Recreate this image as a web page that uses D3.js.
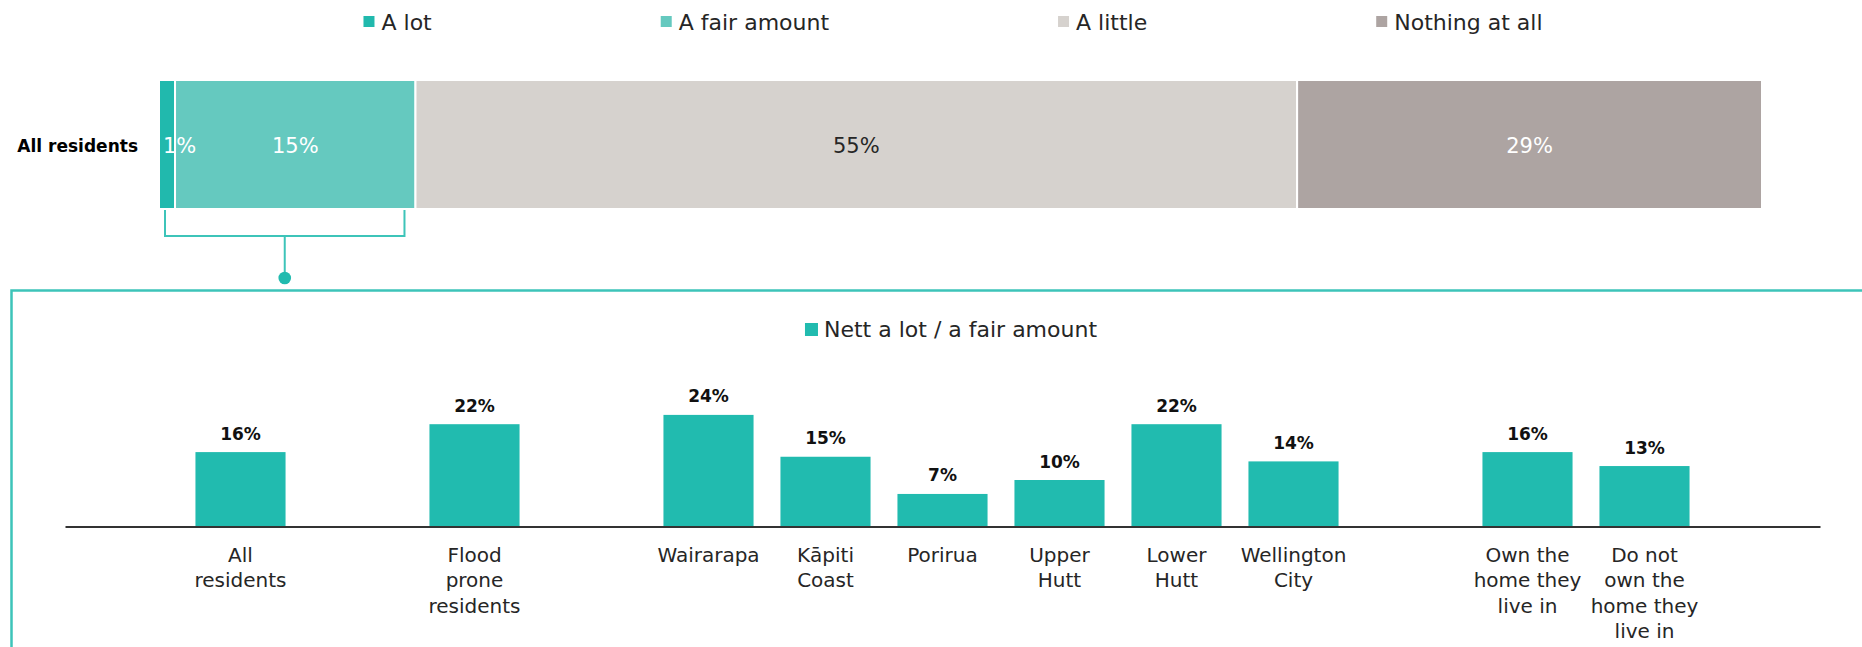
<!DOCTYPE html>
<html>
<head>
<meta charset="utf-8">
<script src="https://cdn.jsdelivr.net/npm/d3@7"></script>
<style>
  html, body { margin: 0; padding: 0; background: #fff; }
  svg { display: block; font-family: "DejaVu Sans", sans-serif; }
</style>
</head>
<body>
<svg id="chart" width="1862" height="647"></svg>
<script>
// ---- Overall awareness (stacked bar) ----
const levels = ["A lot", "A fair amount", "A little", "Nothing at all"];
const allResidentsShares = [1, 15, 55, 29];
const stackRowLabel = "All residents";

// ---- Nett a lot / a fair amount, by subgroup (blank entries are group spacers) ----
const groupLabels = [
  "", "All residents", "", "Flood prone residents", "",
  "Wairarapa", "Kāpiti Coast", "Porirua", "Upper Hutt", "Lower Hutt", "Wellington City", "",
  "Own the home they live in", "Do not own the home they live in", ""
];
const groupLabelLines = [
  [], ["All", "residents"], [], ["Flood", "prone", "residents"], [],
  ["Wairarapa"], ["Kāpiti", "Coast"], ["Porirua"], ["Upper", "Hutt"], ["Lower", "Hutt"], ["Wellington", "City"], [],
  ["Own the", "home they", "live in"], ["Do not", "own the", "home they", "live in"], []
];
const nettValues = [null, 16, null, 22, null, 24, 15, 7, 10, 22, 14, null, 16, 13, null];
const nettSeriesName = "Nett a lot / a fair amount";

// ---- Styles ----
const levelColors = ["#21b9ad", "#65c9bf", "#d6d2ce", "#ada4a2"];
const levelLabelColors = ["#ffffff", "#ffffff", "#262626", "#ffffff"];
const nettColor = "#21bbaf";
const accent = "#3dc4b9";
const textColor = "#262626";

const svg = d3.select("#chart");

// ===== Top legend =====
const legendTop = svg.append("g");
const legendItems = legendTop.selectAll("g").data(levels).join("g");
legendItems.append("rect")
  .attr("width", 11).attr("height", 11).attr("y", 16)
  .attr("fill", (d, i) => levelColors[i]);
legendItems.append("text")
  .attr("x", 18).attr("y", 29.5)
  .attr("font-size", 22).attr("fill", textColor)
  .text(d => d);
{
  const gap = 229;
  const widths = legendItems.nodes().map(n => 18 + n.querySelector("text").getComputedTextLength());
  const total = d3.sum(widths) + gap * (widths.length - 1);
  let xPos = 953 - total / 2;
  legendItems.each(function (d, i) {
    d3.select(this).attr("transform", `translate(${xPos},0)`);
    xPos += widths[i] + gap;
  });
}

// ===== Stacked bar =====
const xStack = d3.scaleLinear().domain([0, 100]).range([159, 1762]);
const yStack = d3.scaleBand().domain([stackRowLabel]).range([80, 209]);
const cum = d3.cumsum(allResidentsShares);
const segments = allResidentsShares.map((v, i) => ({ v, i, x0: cum[i] - v, x1: cum[i] }));

const stackG = svg.append("g");
stackG.selectAll("rect").data(segments).join("rect")
  .attr("x", d => xStack(d.x0))
  .attr("width", d => xStack(d.x1) - xStack(d.x0))
  .attr("y", yStack(stackRowLabel))
  .attr("height", yStack.bandwidth())
  .attr("fill", d => levelColors[d.i])
  .attr("stroke", "#fff").attr("stroke-width", 2);

stackG.selectAll("text.seg").data(segments).join("text")
  .attr("class", "seg")
  .attr("y", yStack(stackRowLabel) + yStack.bandwidth() / 2 + 8)
  .attr("text-anchor", "middle")
  .attr("font-size", 21)
  .attr("fill", d => levelLabelColors[d.i])
  .text(d => d.v + "%")
  .attr("x", function (d) {
    const mid = (xStack(d.x0) + xStack(d.x1)) / 2;
    const half = this.getComputedTextLength() / 2;
    return Math.max(mid, xStack(d.x0) + half + 4);
  });

svg.append("text")
  .attr("x", 138).attr("y", yStack(stackRowLabel) + yStack.bandwidth() / 2 + 7)
  .attr("text-anchor", "end").attr("font-size", 17).attr("font-weight", "bold")
  .attr("fill", "#000")
  .text(stackRowLabel);

// ===== Bracket linking the "nett" share to the breakdown panel =====
const bx0 = xStack(0) + 6;
const bx1 = xStack(allResidentsShares[0] + allResidentsShares[1]) - 11;
const bTop = yStack(stackRowLabel) + yStack.bandwidth() + 1;
const bMid = 236;
const bxc = (bx0 + bx1) / 2;
svg.append("path")
  .attr("d", `M${bx0},${bTop}V${bMid}H${bx1}V${bTop}M${bxc},${bMid}V278`)
  .attr("fill", "none").attr("stroke", accent).attr("stroke-width", 2);
svg.append("circle").attr("cx", bxc).attr("cy", 278).attr("r", 6.3).attr("fill", nettColor);

// Panel frame (opens off the right and bottom edges)
svg.append("path")
  .attr("d", "M11.5,660V290.5H1870")
  .attr("fill", "none").attr("stroke", accent).attr("stroke-width", 2.5);

// ===== Breakdown column chart =====
const xBand = d3.scaleBand()
  .domain(d3.range(groupLabels.length))
  .range([65, 1820])
  .paddingInner(0.23).paddingOuter(0.115);
const yNett = d3.scaleLinear().domain([0, 30]).range([526.5, 387]);

// legend
const leg2 = svg.append("g");
leg2.append("rect").attr("x", 0).attr("y", 323).attr("width", 13).attr("height", 13).attr("fill", nettColor);
const leg2Text = leg2.append("text").attr("x", 19).attr("y", 337)
  .attr("font-size", 22).attr("fill", textColor).text(nettSeriesName);
{
  const w = 19 + leg2Text.node().getComputedTextLength();
  leg2.attr("transform", `translate(${951 - w / 2},0)`);
}

const barData = nettValues.map((v, i) => ({ i, v })).filter(d => d.v !== null);

svg.append("g").selectAll("rect").data(barData).join("rect")
  .attr("x", d => xBand(d.i))
  .attr("width", xBand.bandwidth())
  .attr("y", d => yNett(d.v))
  .attr("height", d => yNett(0) - yNett(d.v))
  .attr("fill", nettColor);

svg.append("g").selectAll("text").data(barData).join("text")
  .attr("x", d => xBand(d.i) + xBand.bandwidth() / 2)
  .attr("y", d => yNett(d.v) - 12.5)
  .attr("text-anchor", "middle")
  .attr("font-size", 17).attr("font-weight", "bold").attr("fill", "#111")
  .text(d => d.v + "%");

// baseline axis
const axisG = svg.append("g")
  .attr("transform", `translate(0,${yNett(0)})`)
  .call(d3.axisBottom(xBand).tickValues([]).tickSizeOuter(0));
axisG.select(".domain").attr("stroke", "#333").attr("stroke-width", 2);

// category labels
const catG = svg.append("g");
groupLabelLines.forEach((lines, i) => {
  if (!lines.length) return;
  const t = catG.append("text")
    .attr("text-anchor", "middle")
    .attr("font-size", 20).attr("fill", textColor);
  lines.forEach((line, k) => {
    t.append("tspan")
      .attr("x", xBand(i) + xBand.bandwidth() / 2)
      .attr("y", 562 + k * 25.4)
      .text(line);
  });
});
</script>
</body>
</html>
